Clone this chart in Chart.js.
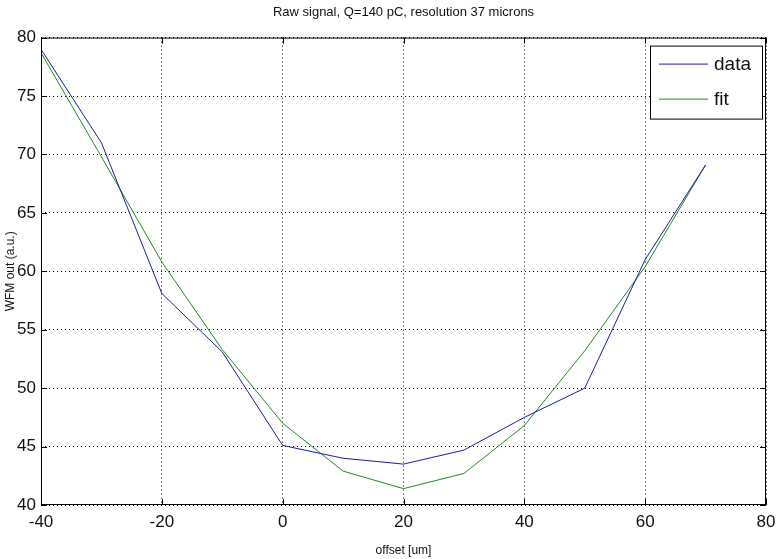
<!DOCTYPE html>
<html>
<head>
<meta charset="utf-8">
<title>Raw signal</title>
<script src="https://cdn.jsdelivr.net/npm/chart.js@4.4.0/dist/chart.umd.min.js"></script>
<style>
  html, body { margin: 0; padding: 0; background: #fff; }
  #wrap { width: 778px; height: 559px; }
</style>
</head>
<body>
<div id="wrap"><canvas id="c" width="778" height="559"></canvas></div>
<script>
// values
const offsets = [-40, -30, -20, -10, 0, 10, 20, 30, 40, 50, 60, 70]
const dataVals = [79.0, 71.0, 58.1, 53.1, 45.1, 44.0, 43.5, 44.7, 47.5, 50.0, 61.0, 69.1]
const fitVals = [78.7, 69.8, 60.8, 53.3, 47.0, 42.9, 41.4, 42.7, 46.8, 53.2, 60.4, 69.1]
const xTicks = [-40, -20, 0, 20, 40, 60, 80]
const yTicks = [40, 45, 50, 55, 60, 65, 70, 75, 80]

const FONT = '"Liberation Sans", Arial, sans-serif'

const toPoints = vals => offsets.map((x, i) => ({ x: x, y: vals[i] }))

// box round the axes with inward ticks, like matlab
const axesBox = {
  id: 'axesBox',
  afterDatasetsDraw(chart) {
    const { ctx, chartArea: a, scales } = chart
    ctx.save()
    ctx.strokeStyle = '#000'
    ctx.lineWidth = 1
    ctx.strokeRect(a.left + 0.5, a.top + 0.5, a.right - a.left - 1, a.bottom - a.top - 1)
    const len = 6
    ctx.beginPath()
    xTicks.forEach(v => {
      const px = Math.round(scales.x.getPixelForValue(v)) + 0.5
      ctx.moveTo(px, a.bottom); ctx.lineTo(px, a.bottom - len)
      ctx.moveTo(px, a.top); ctx.lineTo(px, a.top + len)
    })
    yTicks.forEach(v => {
      const py = Math.round(scales.y.getPixelForValue(v)) + 0.5
      ctx.moveTo(a.left, py); ctx.lineTo(a.left + len, py)
      ctx.moveTo(a.right, py); ctx.lineTo(a.right - len, py)
    })
    ctx.stroke()
    ctx.restore()
  }
}

// legend box in the top right corner
const boxLegend = {
  id: 'boxLegend',
  afterDraw(chart) {
    const { ctx, chartArea: a } = chart
    const w = 112, h = 73
    const left = a.right - w - 4, top = a.top + 8
    ctx.save()
    ctx.fillStyle = '#fff'
    ctx.fillRect(left, top, w, h)
    ctx.strokeStyle = '#000'
    ctx.lineWidth = 1
    ctx.strokeRect(left + 0.5, top + 0.5, w, h)
    ctx.font = '19px ' + FONT
    ctx.textBaseline = 'middle'
    chart.data.datasets.forEach((ds, i) => {
      const y = top + 18 + i * 35
      ctx.strokeStyle = ds.borderColor
      ctx.beginPath()
      ctx.moveTo(left + 9, y + 0.5); ctx.lineTo(left + 58, y + 0.5)
      ctx.stroke()
      ctx.fillStyle = '#111'
      ctx.fillText(ds.label, left + 64, y + 1)
    })
    ctx.restore()
  }
}

new Chart(document.getElementById('c'), {
  type: 'line',
  data: {
    datasets: [
      { label: 'data', data: toPoints(dataVals), borderColor: '#1c1ca0', borderWidth: 1, pointRadius: 0, tension: 0, fill: false },
      { label: 'fit', data: toPoints(fitVals), borderColor: '#208a20', borderWidth: 1, pointRadius: 0, tension: 0, fill: false }
    ]
  },
  options: {
    responsive: false,
    animation: false,
    layout: { padding: { left: 0, right: 12, top: 0, bottom: 0 } },
    plugins: {
      legend: { display: false },
      tooltip: { enabled: false },
      title: {
        display: true,
        fullSize: false,
        text: 'Raw signal, Q=140 pC, resolution 37 microns',
        color: '#111',
        font: { family: FONT, size: 13, weight: 'normal' },
        padding: { top: 5, bottom: 17 }
      }
    },
    scales: {
      x: {
        type: 'linear',
        min: -40,
        max: 80,
        afterBuildTicks: s => { s.ticks = xTicks.map(v => ({ value: v })) },
        afterFit: s => { s.height = 54; s.paddingRight = 4; s.paddingLeft = 0 },
        ticks: { color: '#111', padding: 7, font: { family: FONT, size: 17 } },
        grid: { color: '#000', lineWidth: 1, drawTicks: false },
        border: { display: false, dash: [1, 3] },
        title: { display: true, text: 'offset [um]', color: '#111', font: { family: FONT, size: 12 }, padding: { top: 0, bottom: 1 } }
      },
      y: {
        min: 40,
        max: 80,
        afterBuildTicks: s => { s.ticks = yTicks.map(v => ({ value: v })) },
        afterFit: s => { s.width = 41 },
        ticks: { color: '#111', padding: 5, font: { family: FONT, size: 17 } },
        grid: { color: '#000', lineWidth: 1, drawTicks: false },
        border: { display: false, dash: [1, 3] },
        title: { display: true, text: 'WFM out (a.u.)', color: '#111', font: { family: FONT, size: 12 }, padding: { top: 3, bottom: 0 } }
      }
    }
  },
  plugins: [axesBox, boxLegend]
})
</script>
</body>
</html>
